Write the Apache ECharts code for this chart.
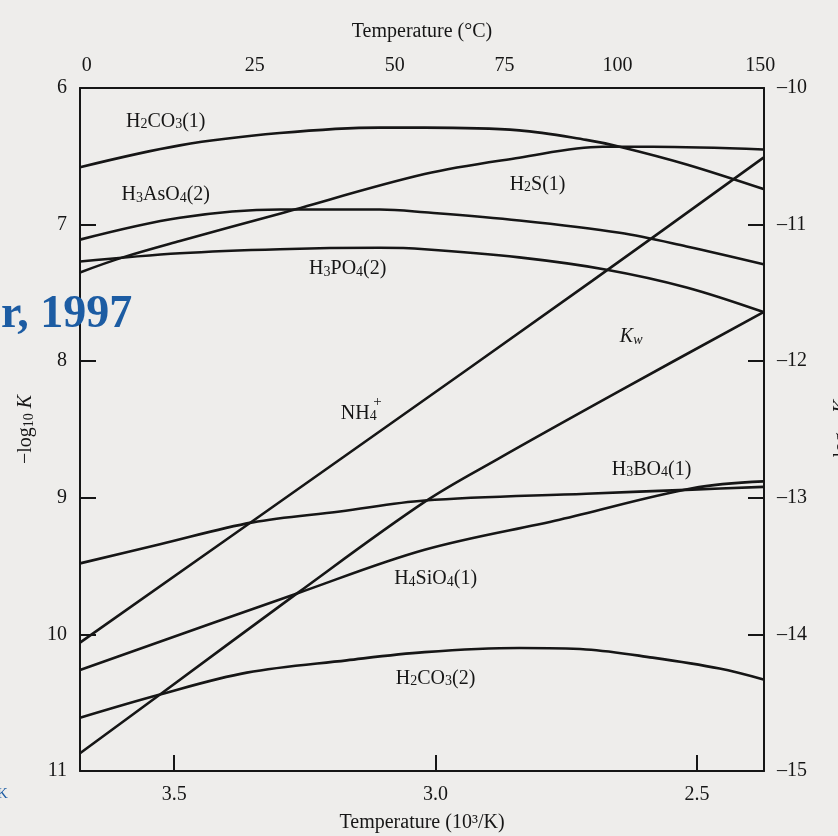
<!DOCTYPE html>
<html><head><meta charset="utf-8">
<script src="https://cdn.jsdelivr.net/npm/echarts@6/dist/echarts.min.js"></script>
<style>html,body{margin:0;padding:0;background:#eeedeb}#c{width:838px;height:836px}</style>
</head><body><div id="c"></div><script>
// x: Temperature (10^3/K); y: -log10 K (Kw on right axis as shown)
const X_MIN = 2.372, X_MAX = 3.68;
const bottomTicks = [3.5, 3.0, 2.5];
const topTempLabels = ['0', '25', '50', '75', '100', '150'];
const topTempPos = [3.667, 3.346, 3.078, 2.868, 2.652, 2.379];

const h2co3_1_x = [3.680, 3.489, 3.298, 3.107, 3.021, 2.840, 2.712, 2.648, 2.520, 2.373];
const h2co3_1_y = [6.58, 6.42, 6.33, 6.29, 6.29, 6.31, 6.38, 6.43, 6.56, 6.74];

const h2s_1_x = [3.680, 3.598, 3.489, 3.298, 3.021, 2.840, 2.681, 2.585, 2.373];
const h2s_1_y = [7.35, 7.24, 7.12, 6.92, 6.63, 6.51, 6.43, 6.43, 6.45];

const h3aso4_2_x = [3.680, 3.489, 3.298, 3.107, 3.021, 2.840, 2.648, 2.520, 2.373];
const h3aso4_2_y = [7.11, 6.95, 6.89, 6.89, 6.91, 6.97, 7.06, 7.16, 7.29];

const h3po4_2_x = [3.680, 3.489, 3.298, 3.107, 3.021, 2.840, 2.673, 2.520, 2.373];
const h3po4_2_y = [7.27, 7.21, 7.18, 7.17, 7.18, 7.24, 7.33, 7.46, 7.64];

const nh4_x = [3.680, 3.183, 2.700, 2.373];
const nh4_y = [10.06, 8.72, 7.41, 6.51];

const h3bo4_1_x = [3.680, 3.527, 3.350, 3.183, 3.021, 2.712, 2.509, 2.373];
const h3bo4_1_y = [9.48, 9.34, 9.18, 9.10, 9.02, 8.97, 8.94, 8.92];

const h4sio4_1_x = [3.680, 3.265, 3.021, 2.763, 2.509, 2.373];
const h4sio4_1_y = [10.26, 9.70, 9.38, 9.16, 8.93, 8.88];

const h2co3_2_x = [3.680, 3.527, 3.361, 3.170, 3.021, 2.840, 2.712, 2.585, 2.457, 2.373];
const h2co3_2_y = [10.61, 10.44, 10.28, 10.19, 10.13, 10.10, 10.11, 10.17, 10.25, 10.33];

const kw_x = [3.680, 3.527, 3.265, 3.021, 2.883, 2.654, 2.373];
const kw_y = [-14.87, -14.44, -13.70, -13.03, -12.72, -12.23, -11.64];

// curve labels: rich text and anchor in data units
const labelTexts = [
  '{n|H}{s|2}{n|CO}{s|3}{n|(1)}',
  '{n|H}{s|3}{n|AsO}{s|4}{n|(2)}',
  '{n|H}{s|3}{n|PO}{s|4}{n|(2)}',
  '{n|H}{s|2}{n|S(1)}',
  '{i|K}{is|w}',
  '{n|NH}{s|4}',
  '{p|+}',
  '{n|H}{s|3}{n|BO}{s|4}{n|(1)}',
  '{n|H}{s|4}{n|SiO}{s|4}{n|(1)}',
  '{n|H}{s|2}{n|CO}{s|3}{n|(2)}'
];
const labelX = [3.516, 3.516, 3.168, 2.805, 2.626, 3.147, 3.111, 2.587, 3.000, 3.000];
const labelY = [6.23, 6.77, 7.31, 6.69, 7.81, 8.37, 8.30, 8.78, 9.58, 10.31];

const FONT = '"Liberation Serif","DejaVu Serif",serif';
const INK = '#161616';
const RICH = {
  n: {fontFamily: FONT, fontSize: 20, color: INK, lineHeight: 24, verticalAlign: 'bottom'},
  s: {fontFamily: FONT, fontSize: 14, color: INK, lineHeight: 8, verticalAlign: 'bottom'},
  i: {fontFamily: FONT, fontSize: 20, fontStyle: 'italic', color: INK, lineHeight: 24, verticalAlign: 'bottom'},
  is: {fontFamily: FONT, fontSize: 14, fontStyle: 'italic', color: INK, lineHeight: 8, verticalAlign: 'bottom'},
  p: {fontFamily: FONT, fontSize: 15, color: INK, lineHeight: 15}
};

function curve(xs, ys, yi) {
  return {
    type: 'line', yAxisIndex: yi || 0, xAxisIndex: 0,
    data: xs.map((x, i) => [x, ys[i]]),
    smooth: 0.35, symbol: 'none', silent: true,
    lineStyle: {color: INK, width: 2.6}, z: 3
  };
}

const series = [
  curve(h2co3_1_x, h2co3_1_y),
  curve(h2s_1_x, h2s_1_y),
  curve(h3aso4_2_x, h3aso4_2_y),
  curve(h3po4_2_x, h3po4_2_y),
  curve(nh4_x, nh4_y),
  curve(h3bo4_1_x, h3bo4_1_y),
  curve(h4sio4_1_x, h4sio4_1_y),
  curve(h2co3_2_x, h2co3_2_y),
  curve(kw_x, kw_y, 1),
  {
    type: 'scatter', symbol: 'circle', symbolSize: 1, silent: true, z: 5,
    itemStyle: {color: 'rgba(0,0,0,0)', opacity: 1},
    label: {show: true, position: 'inside', rich: RICH, color: INK},
    labelLayout: {hideOverlap: false},
    data: labelTexts.map((t, i) => ({
      value: [labelX[i], labelY[i]],
      label: {show: true, position: 'inside', formatter: t, rich: RICH}
    }))
  }
];

const axisLineStyle = {color: INK, width: 2};
const tickLabel = {fontFamily: FONT, fontSize: 20, color: INK};

const chart = echarts.init(document.getElementById('c'));
chart.setOption({
  backgroundColor: '#eeedeb',
  animation: false,
  grid: {left: 80, right: 74, top: 88, bottom: 65, containLabel: false, outerBoundsMode: 'none'},
  xAxis: [
    {
      type: 'value', position: 'bottom', min: X_MIN, max: X_MAX, inverse: true,
      axisLine: {show: true, lineStyle: axisLineStyle},
      axisTick: {show: true, inside: true, length: 16, customValues: bottomTicks, lineStyle: axisLineStyle},
      axisLabel: Object.assign({customValues: bottomTicks, margin: 14, formatter: v => v.toFixed(1)}, tickLabel),
      splitLine: {show: false},
      name: 'Temperature (10³/K)', nameLocation: 'middle', nameGap: 42,
      nameTextStyle: {fontFamily: FONT, fontSize: 20, color: INK}
    },
    {
      type: 'value', position: 'top', min: X_MIN, max: X_MAX, inverse: true,
      axisLine: {show: true, lineStyle: axisLineStyle},
      axisTick: {show: false},
      axisLabel: Object.assign({
        customValues: topTempPos, margin: 12,
        formatter: v => {
          const k = topTempPos.findIndex(p => Math.abs(p - v) < 1e-6);
          return k >= 0 ? topTempLabels[k] : '';
        }
      }, tickLabel),
      splitLine: {show: false},
      name: 'Temperature (°C)', nameLocation: 'middle', nameGap: 46,
      nameTextStyle: {fontFamily: FONT, fontSize: 20, color: INK}
    }
  ],
  yAxis: [
    {
      type: 'value', position: 'left', min: 6, max: 11, interval: 1, inverse: true,
      axisLine: {show: true, lineStyle: axisLineStyle},
      axisTick: {show: true, inside: true, length: 16, lineStyle: axisLineStyle},
      axisLabel: Object.assign({margin: 13}, tickLabel),
      splitLine: {show: false},
      name: '{n|−log}{s|10}{i| K}', nameLocation: 'middle', nameGap: 43, nameRotate: 90,
      nameTextStyle: {rich: RICH}
    },
    {
      type: 'value', position: 'right', min: -15, max: -10, interval: 1,
      axisLine: {show: true, lineStyle: axisLineStyle},
      axisTick: {show: true, inside: true, length: 16, lineStyle: axisLineStyle},
      axisLabel: Object.assign({margin: 13, formatter: v => '–' + Math.abs(v)}, tickLabel),
      splitLine: {show: false},
      name: '{n|−log}{s|10}{i| K}{is|w}', nameLocation: 'middle', nameGap: 64, nameRotate: 90,
      nameTextStyle: {rich: RICH}
    }
  ],
  graphic: [
    {type: 'text', left: 1, top: 292, z: 100,
     style: {text: 'r, 1997', font: 'bold 46px "Liberation Serif"', fill: '#1c5ca3'}},
    {type: 'text', left: -3, top: 787, z: 100,
     style: {text: 'K', font: '15px "Liberation Serif"', fill: '#1c5ca3'}}
  ],
  series: series
});
</script></body></html>
